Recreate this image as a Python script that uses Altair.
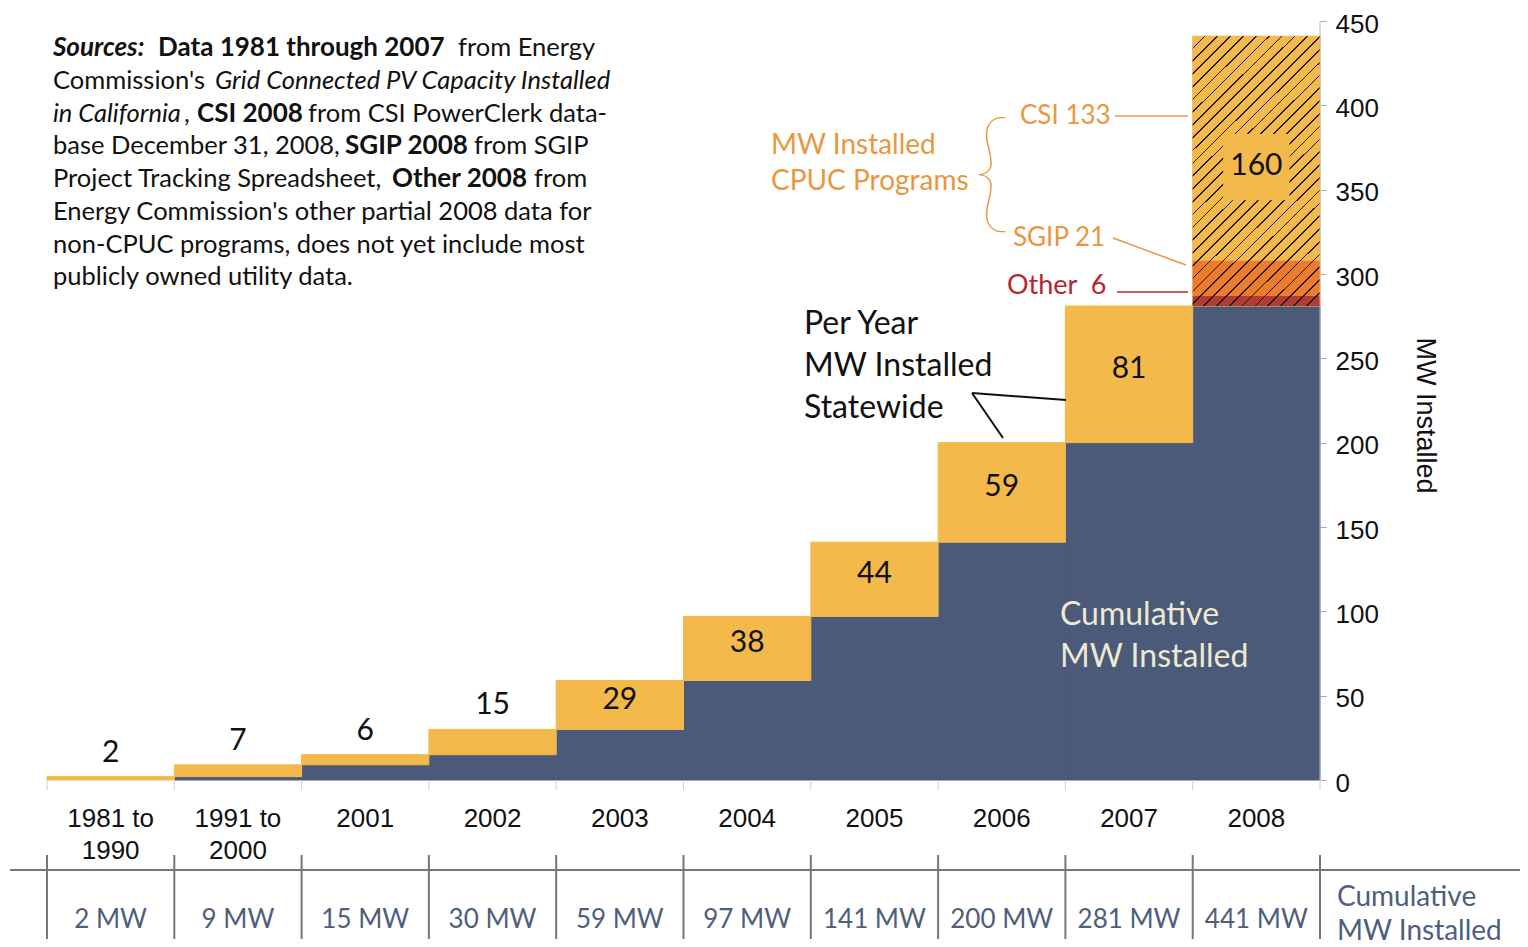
import altair as alt
import pandas as pd

# ---------------- data ----------------
periods = ["1981 to\n1990", "1991 to\n2000", "2001", "2002", "2003",
           "2004", "2005", "2006", "2007", "2008"]
per_year_mw = [2, 7, 6, 15, 29, 38, 44, 59, 81, 160]
cumulative_mw = [2, 9, 15, 30, 59, 97, 141, 200, 281, 441]
programs_2008 = ["Other", "SGIP", "CSI"]
program_mw_2008 = [6, 21, 133]
y_tick_values = [0, 50, 100, 150, 200, 250, 300, 350, 400, 450]

# ---------------- style ----------------
BLUE = "#4a5a78"
YELLOW = "#f3b94b"
ORANGE = "#ec7c2c"
RED = "#b43b31"
ORANGE_TXT = "#e8973f"
RED_TXT = "#b5262f"
SLATE_TXT = "#4e5e7e"
CREAM = "#ede9d2"
INK = "#111111"
HUM = "Lato"
ARIAL = "Liberation Sans"

W, H = 1273, 918
PAD_L, PAD_T = 39, 13
OX, OY = 8 + PAD_L, 8 + PAD_T          # page position of plot origin
PX_PER_MW = 759 / 450
Y_MIN = 450 - H / PX_PER_MW


def yv(py):
    """page pixel row -> value on the MW scale (for things under the axis)"""
    return (780 - py) / PX_PER_MW


# ---------------- tables ----------------
bars = pd.DataFrame({"period": periods, "per_year": per_year_mw,
                     "cum": cumulative_mw})
bars["table"] = [f"{v} MW" for v in cumulative_mw]
bars["i"] = range(len(bars))
bars["i2"] = bars["i"] + 1
bars["xc"] = bars["i"] + 0.5
bars["base"] = bars["cum"] - bars["per_year"]
bars["zero"] = 0
bars["mid"] = bars["base"] + bars["per_year"] / 2
bars["label_y"] = yv(827)
bars["table_y"] = yv(920)
last = len(bars) - 1

prog = pd.DataFrame({"program": programs_2008, "mw": program_mw_2008})
prog["hi"] = bars["base"].iloc[last] + prog["mw"].cumsum()
prog["lo"] = prog["hi"] - prog["mw"]
prog["i"] = last
prog["i2"] = last + 1

bounds = pd.DataFrame({"b": list(range(len(bars) + 1))})
bounds["top"] = 0
bounds["tick"] = -6
bounds["tab_top"] = yv(855)
bounds["tab_bot"] = Y_MIN

xs = alt.Scale(domain=[0, len(bars)], nice=False, zero=False)
ys = alt.Scale(domain=[Y_MIN, 450], nice=False, zero=False)


def X(f):
    return alt.X(f"{f}:Q", scale=xs, axis=None)


def Y(f):
    return alt.Y(f"{f}:Q", scale=ys, axis=None)


yaxis = alt.Axis(orient="right", values=y_tick_values, domain=False, grid=False,
                 tickSize=6, tickColor="#aaaaaa", tickWidth=1,
                 labelFont=ARIAL, labelFontSize=26, labelColor=INK,
                 labelPadding=9, labelFlush=False, labelOffset=3,
                 title="MW Installed", titleFont=ARIAL, titleFontSize=27,
                 titleFontWeight="normal", titleColor=INK, titleAngle=90,
                 titleX=104, titleY=394, titleAlign="center",
                 titleBaseline="middle")

ONE = pd.DataFrame({"k": [0]})


def note(text, px, py, size, color=INK, font=HUM, weight="normal",
         style="normal", align="left", baseline="middle", line_height=None):
    kw = dict(text=text, font=font, fontSize=size, color=color,
              fontWeight=weight, fontStyle=style, align=align,
              baseline=baseline)
    if line_height is not None:
        kw["lineHeight"] = line_height
    return alt.Chart(ONE).mark_text(**kw).encode(
        x=alt.value(px - OX), y=alt.value(py - OY))


def seg(x1, y1, x2, y2, color, width):
    return alt.Chart(ONE).mark_rule(color=color, strokeWidth=width).encode(
        x=alt.value(x1 - OX), y=alt.value(y1 - OY),
        x2=alt.value(x2 - OX), y2=alt.value(y2 - OY))


layers = []

# cumulative (blue) base -- carries the y axis
layers.append(alt.Chart(bars).transform_filter("datum.base > 0").mark_rect(
    color=BLUE, stroke=BLUE, strokeWidth=1).encode(
    x=X("i"), x2="i2",
    y=alt.Y("zero:Q", scale=ys, axis=yaxis), y2="base"))

# baseline ticks under the bars
layers.append(alt.Chart(bounds).mark_rule(color="#cfcfcf", strokeWidth=1).encode(
    x=X("b"), y=Y("top"), y2="tick"))

# per-year (yellow) increment
layers.append(alt.Chart(bars).mark_rect(
    color=YELLOW, stroke=YELLOW, strokeWidth=1).encode(
    x=X("i"), x2="i2", y=Y("base"), y2="cum"))

# 2008 by program
layers.append(alt.Chart(prog).mark_rect(strokeWidth=0).encode(
    x=X("i"), x2="i2", y=Y("lo"), y2="hi",
    color=alt.Color("program:N", legend=None,
                    scale=alt.Scale(domain=programs_2008,
                                    range=[RED, ORANGE, YELLOW]))))

# diagonal hatch over the 2008 increment
n_lines, w = 31, 0.0042
clear, ink = "rgba(0,0,0,0)", "#1c1c1c"
stops = []
for k in range(n_lines):
    s, e = k / n_lines, (k + 1) / n_lines
    stops += [alt.GradientStop(offset=s, color=clear),
              alt.GradientStop(offset=e - w, color=clear),
              alt.GradientStop(offset=e - w, color=ink),
              alt.GradientStop(offset=e, color=ink)]
hatch = alt.LinearGradient(gradient="linear", stops=stops,
                           x1=0, y1=0, x2=0.565, y2=1.204)
layers.append(alt.Chart(bars).transform_filter(f"datum.i == {last}").mark_rect(
    fill=hatch, strokeWidth=0).encode(
    x=X("i"), x2="i2", y=Y("base"), y2="cum"))

# patch behind the 160 label
layers.append(alt.Chart(bars).transform_filter(f"datum.i == {last}").mark_square(
    size=4400, color=YELLOW, opacity=1, yOffset=-4).encode(
    x=X("xc"), y=Y("mid")))

# per-year labels
layers.append(alt.Chart(bars).transform_filter("datum.per_year >= 20").mark_text(
    font=HUM, fontSize=30, color=INK, baseline="middle", dy=-5).encode(
    x=X("xc"), y=Y("mid"), text="per_year:Q"))
layers.append(alt.Chart(bars).transform_filter("datum.per_year < 20").mark_text(
    font=HUM, fontSize=30, color=INK, baseline="alphabetic", dy=-15).encode(
    x=X("xc"), y=Y("cum"), text="per_year:Q"))

# right axis line
layers.append(alt.Chart(pd.DataFrame({"x": [len(bars)], "lo": [0], "hi": [450]}))
              .mark_rule(color="#b8b8b8", strokeWidth=1).encode(
    x=X("x"), y=Y("lo"), y2="hi"))

# period labels
layers.append(alt.Chart(bars).mark_text(
    font=ARIAL, fontSize=26, color=INK, baseline="alphabetic", lineBreak="\n",
    lineHeight=32).encode(x=X("xc"), y=Y("label_y"), text="period:N"))

# cumulative table
layers.append(alt.Chart(bounds).mark_rule(color="#777777", strokeWidth=2).encode(
    x=X("b"), y=Y("tab_top"), y2="tab_bot"))
layers.append(seg(10, 870, 1528, 870, "#777777", 2))
layers.append(alt.Chart(bars).mark_text(
    font=HUM, fontSize=26, color=SLATE_TXT, baseline="middle").encode(
    x=X("xc"), y=Y("table_y"), text="table:N"))
layers.append(note(["Cumulative", "MW Installed"], 1337, 906, 28, SLATE_TXT,
                   baseline="alphabetic", line_height=34))

# annotations
layers.append(note(["Cumulative", "MW Installed"], 1060, 625, 32, CREAM,
                   baseline="alphabetic", line_height=42))
layers.append(note(["Per Year", "MW Installed", "Statewide"], 804, 334, 32, INK,
                   baseline="alphabetic", line_height=42))
layers.append(seg(972, 393, 1003, 438, INK, 2))
layers.append(seg(972, 393, 1066, 400, INK, 2))

layers.append(note(["MW Installed", "CPUC Programs"], 771, 154, 28, ORANGE_TXT,
                   baseline="alphabetic", line_height=36))
layers.append(note("{", 992, 176, 132, ORANGE_TXT, weight=100, align="center"))
layers.append(note("CSI 133", 1020, 116, 26, ORANGE_TXT))
layers.append(seg(1115, 116, 1188, 116, ORANGE_TXT, 1.5))
layers.append(note("SGIP 21", 1013, 238, 26, ORANGE_TXT))
layers.append(seg(1113, 238, 1186, 265, ORANGE_TXT, 1.5))
layers.append(note("Other\u00a0\u00a06", 1007, 286, 27, RED_TXT))
layers.append(seg(1117, 292, 1188, 292, RED_TXT, 1.5))

# sources paragraph (mixed styles)
src_lines = [
    [(53, "Sources:", "bi"), (158, "Data 1981 through 2007", "b"), (458, "from Energy", "r")],
    [(53, "Commission's", "r"), (215, "Grid Connected PV Capacity Installed", "i")],
    [(53, "in California", "i"), (184, ",", "r"), (197, "CSI 2008", "b"),
     (308, "from CSI PowerClerk data-", "r")],
    [(53, "base December 31, 2008,", "r"), (345, "SGIP 2008", "b"), (474, "from SGIP", "r")],
    [(53, "Project Tracking Spreadsheet,", "r"), (392, "Other 2008", "b"), (534, "from", "r")],
    [(53, "Energy Commission's other partial 2008 data for", "r")],
    [(53, "non-CPUC programs, does not yet include most", "r")],
    [(53, "publicly owned utility data.", "r")],
]
src_baselines = [56, 89, 122, 154, 187, 220, 253, 285]
for line, base_y in zip(src_lines, src_baselines):
    for px, text, st in line:
        layers.append(note(text, px, base_y, 26 if "b" in st else 25.5, INK,
                           weight="bold" if "b" in st else "normal",
                           style="italic" if "i" in st else "normal",
                           baseline="alphabetic"))

chart = alt.layer(*layers).resolve_axis(y="independent").properties(
    width=W, height=H,
    autosize=alt.AutoSizeParams(type="none"),
    padding={"left": PAD_L, "top": PAD_T, "right": 200, "bottom": 8},
).configure_view(stroke="transparent")

chart.save("out.html", embed_options={"renderer": "svg", "actions": False})
